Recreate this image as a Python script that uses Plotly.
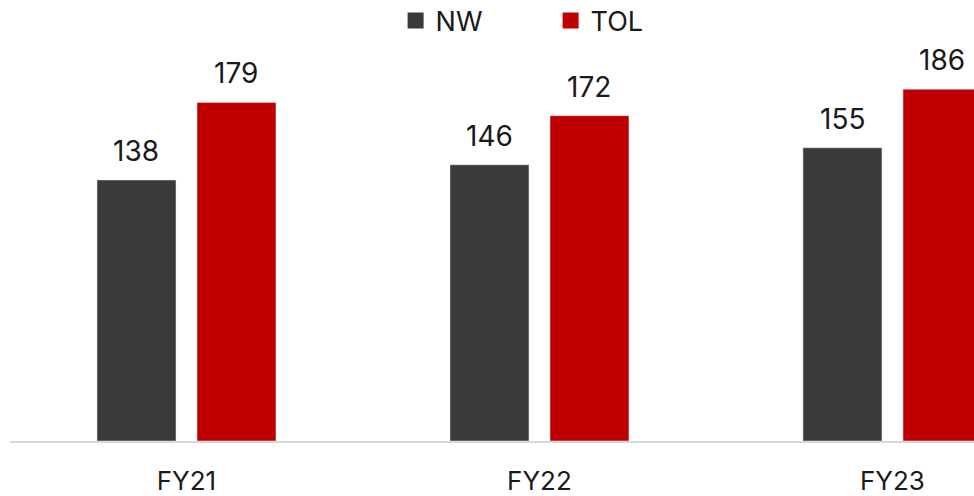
import plotly.graph_objects as go

years = ['FY21', 'FY22', 'FY23']
nw = [138, 146, 155]
tol = [179, 172, 186]

NW_COLOR = '#3b3a38'
TOL_COLOR = '#c00000'
FONT = 'Inter, Roboto, sans-serif'

fig = go.Figure()
fig.add_trace(go.Bar(name='NW', x=years, y=nw, marker_color=NW_COLOR, showlegend=False))
fig.add_trace(go.Bar(name='TOL', x=years, y=tol, marker_color=TOL_COLOR, showlegend=False))

# legend-only entries so the swatches can be bigger squares
for name, col in (('NW', NW_COLOR), ('TOL', TOL_COLOR)):
    fig.add_trace(go.Scatter(
        name=name, x=[None], y=[None], mode='markers',
        marker=dict(symbol='square', size=16, color=col), hoverinfo='skip'))

# value labels above each bar
annotations = []
for i, yr in enumerate(years):
    for val, shift in ((nw[i], -50), (tol[i], 50)):
        annotations.append(dict(
            x=yr, y=val, xref='x', yref='y',
            xshift=shift, yshift=10,
            yanchor='bottom', showarrow=False,
            text=str(val),
            font=dict(size=28, color='#1a1a1a', family=FONT),
        ))

fig.update_layout(
    width=974, height=496,
    barmode='group', bargap=0.4334, bargroupgap=0.21,
    plot_bgcolor='white', paper_bgcolor='white',
    margin=dict(l=10, r=0, t=8, b=55, autoexpand=False),
    font=dict(family=FONT, size=26, color='#1a1a1a'),
    annotations=annotations,
    legend=dict(
        orientation='h', x=0.40, y=0.97, xanchor='left', yanchor='middle',
        font=dict(size=27), entrywidth=110, bgcolor='rgba(0,0,0,0)',
        itemsizing='trace',
    ),
    xaxis=dict(
        range=[-0.5, 2.231], showline=True, linecolor='#d9d9d9', linewidth=2,
        ticks='', ticklabelstandoff=16, showgrid=False, automargin=False,
    ),
    yaxis=dict(range=[0, 228.9], visible=False, showgrid=False, automargin=False),
)

# drop the browser's default page margin so the figure fills the window
fig.write_html('out.html', config={'displayModeBar': False},
               post_script="document.body.style.margin = '0px';")
